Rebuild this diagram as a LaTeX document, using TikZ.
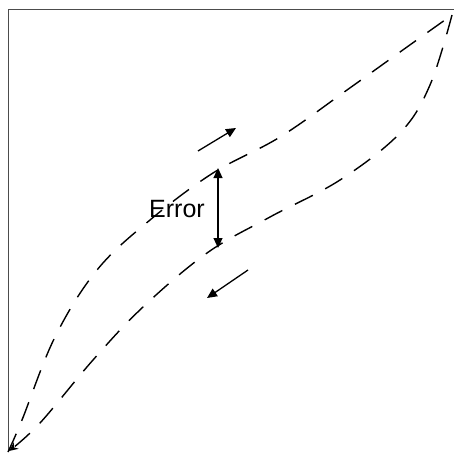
\documentclass[tikz,border=0pt]{standalone}
\usepackage{fontspec}
\setmainfont{Liberation Sans}
\usetikzlibrary{arrows.meta}
\begin{document}
\begin{tikzpicture}[x=1pt,y=-1pt,
  curve/.style={line width=1.4pt,dash pattern=on 20pt off 14pt,smooth,tension=0.6},
  tip/.style={-{Triangle[length=10pt,width=9pt]}},
  dirarrow/.style={line width=1.3pt,tip},
  errarrow/.style={line width=1.1pt,{Triangle[length=10pt,width=9pt]}-{Triangle[length=10pt,width=9pt]}},
  frame/.style={line width=0.8pt,black!70}]
\useasboundingbox (0,0) rectangle (454,452);
\coordinate (O) at (8,452);
\coordinate (TL) at (8,9);
\coordinate (TR) at (454,9);
\coordinate (E) at (452,15);
\draw[frame] (O) -- (TL) -- (TR);
% upper (loading) curve
\draw[curve] plot coordinates {(8,452) (22,420) (55,337) (97,270) (150,220) (213,173) (280,137) (347,90) (407,47) (452,15)};
% lower (unloading) curve
\draw[curve,-{Stealth[length=9pt,width=8pt]}] plot coordinates {(452,15) (430,85) (400,133) (340,180) (270,217) (207,253) (143,307) (93,360) (40,423) (9,451)};
% direction arrows
\coordinate (u1) at (198,151);
\coordinate (u2) at (236,128);
\draw[dirarrow] (u1) -- (u2);
\coordinate (d1) at (248,270);
\coordinate (d2) at (207,298);
\draw[dirarrow] (d1) -- (d2);
% error arrow
\coordinate (e1) at (218,168);
\coordinate (e2) at (218,248);
\draw[errarrow] (e1) -- (e2);
\node[anchor=east,font=\fontsize{25}{30}\selectfont,inner sep=0pt] (err) at (205,209) {Error};
\end{tikzpicture}
\end{document}
